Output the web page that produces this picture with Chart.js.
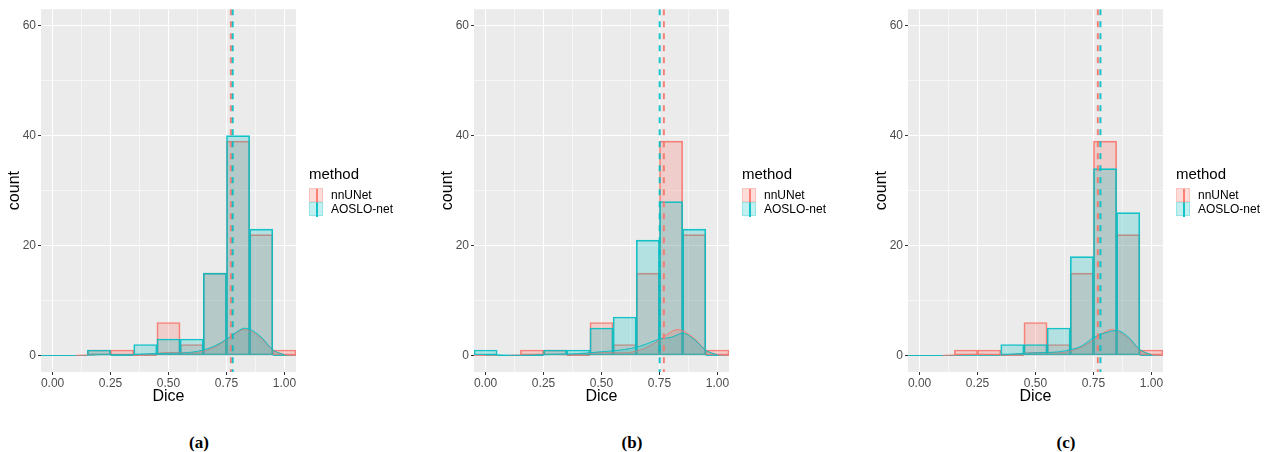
<!DOCTYPE html>
<html>
<head>
<meta charset="utf-8">
<script src="https://cdn.jsdelivr.net/npm/chart.js@4.4.1/dist/chart.umd.min.js"></script>
<style>
  body { margin: 0; width: 1277px; height: 452px; background: #fff; position: relative; overflow: hidden;
         font-family: "Liberation Sans", Arial, sans-serif; }
  .panel { position: absolute; top: 0; width: 430px; height: 452px; }
  .panel canvas { position: absolute; left: 0; top: 0; }
  .legend { position: absolute; left: 309px; top: 164px; color: #000; }
  .legend .ttl { font-size: 15px; line-height: 20px; margin-bottom: 4px; }
  .legend .row { height: 14px; display: flex; align-items: center; font-size: 12px; }
  .key { width: 14px; height: 14px; box-sizing: border-box; position: relative; margin-right: 8px; }
  .key span { position: absolute; left: 6px; top: 0; width: 2px; height: 14px; }
  .caption { position: absolute; top: 433px; left: 169px; width: 60px; text-align: center; line-height: 20px;
             font: bold 17px "Liberation Serif", "Times New Roman", serif; }
</style>
</head>
<body>
<div class="panel" style="left:0px"><canvas id="chartA" width="430" height="410"></canvas></div>
<div class="panel" style="left:433px"><canvas id="chartB" width="430" height="410"></canvas></div>
<div class="panel" style="left:867px"><canvas id="chartC" width="430" height="410"></canvas></div>
<script>
// histogram bins (binwidth 0.1)
var binCenters = [0.0, 0.1, 0.2, 0.3, 0.4, 0.5, 0.6, 0.7, 0.8, 0.9, 1.0];
var nnunetCounts = [0, 0, 1, 1, 0, 6, 2, 15, 39, 22, 1];
var aosloCountsA = [0, 0, 1, 0, 2, 3, 3, 15, 40, 23, 0];
var aosloCountsB = [1, 0, 0, 1, 1, 5, 7, 21, 28, 23, 0];
var aosloCountsC = [0, 0, 0, 0, 2, 2, 5, 18, 34, 26, 0];

// density curves
var nnunetDensX = [0.10, 0.15, 0.20, 0.25, 0.30, 0.35, 0.40, 0.45, 0.50, 0.55, 0.60, 0.65, 0.70, 0.75, 0.80, 0.825, 0.85, 0.90, 0.95, 1.00, 1.05];
var nnunetDensY = [0.03, 0.10, 0.18, 0.20, 0.17, 0.14, 0.20, 0.38, 0.55, 0.50, 0.48, 0.80, 1.55, 2.85, 4.30, 4.72, 4.50, 3.10, 1.00, 0.15, 0.02];
var aosloDensXA = [0.15, 0.20, 0.25, 0.30, 0.35, 0.40, 0.45, 0.50, 0.55, 0.60, 0.65, 0.70, 0.75, 0.80, 0.825, 0.85, 0.90, 0.95, 1.00];
var aosloDensYA = [0.05, 0.14, 0.16, 0.13, 0.16, 0.28, 0.38, 0.42, 0.44, 0.60, 1.00, 1.75, 2.95, 4.45, 4.95, 4.80, 3.35, 1.05, 0.12];
var aosloDensXB = [0.00, 0.05, 0.10, 0.15, 0.20, 0.25, 0.30, 0.35, 0.40, 0.45, 0.50, 0.55, 0.60, 0.65, 0.70, 0.75, 0.80, 0.85, 0.90, 0.95, 1.00];
var aosloDensYB = [0.12, 0.12, 0.06, 0.04, 0.07, 0.14, 0.20, 0.25, 0.35, 0.50, 0.70, 0.85, 1.10, 1.50, 2.20, 3.00, 3.30, 4.05, 2.90, 0.95, 0.12];
var aosloDensXC = [0.35, 0.40, 0.45, 0.50, 0.55, 0.60, 0.65, 0.70, 0.75, 0.80, 0.85, 0.90, 0.95, 1.00];
var aosloDensYC = [0.10, 0.25, 0.40, 0.50, 0.55, 0.68, 1.05, 1.75, 3.25, 4.10, 4.55, 3.40, 1.10, 0.15];

// mean Dice (dashed lines)
var nnunetMean = 0.769;
var aosloMeans = [0.777, 0.751, 0.780];

var xRange = [-0.05, 1.05];
var yRange = [-3, 63];
var xTicks = [0, 0.25, 0.5, 0.75, 1];
var xMinor = [0.125, 0.375, 0.625, 0.875];
var yTicks = [0, 20, 40, 60];
var yMinor = [10, 30, 50];

var methods = ['nnUNet', 'AOSLO-net'];
var panelLabels = ['(a)', '(b)', '(c)'];

var RED = 'rgba(248,118,109,0.9)', RED_FILL = 'rgba(248,118,109,0.26)';
var TEAL = 'rgba(0,191,196,0.9)', TEAL_FILL = 'rgba(0,191,196,0.24)';

Chart.defaults.font.family = '"Liberation Sans", Arial, sans-serif';

// grey panel background
var panelBg = {
  id: 'panelBg',
  beforeDraw: function (chart) {
    var a = chart.chartArea, c = chart.ctx;
    c.save();
    c.fillStyle = '#EBEBEB';
    c.fillRect(a.left, a.top, a.right - a.left, a.bottom - a.top);
    c.restore();
  }
};

// ggplot draws empty bins as a flat outline on the baseline
var zeroBins = {
  id: 'zeroBins',
  afterDatasetDraw: function (chart, args) {
    var meta = args.meta;
    if (meta.type !== 'bar') return;
    var ds = chart.data.datasets[args.index];
    var c = chart.ctx;
    c.save();
    c.strokeStyle = ds.borderColor;
    c.lineWidth = 1;
    meta.data.forEach(function (bar, i) {
      if (ds.data[i].y !== 0) return;
      c.beginPath();
      c.moveTo(bar.x - bar.width / 2, bar.base);
      c.lineTo(bar.x + bar.width / 2, bar.base);
      c.stroke();
    });
    c.restore();
  }
};

function pts(xs, ys) {
  return xs.map(function (x, i) { return {x: x, y: ys[i]}; });
}

function histSet(label, counts, border, fill, order) {
  return {
    type: 'bar', label: label, data: pts(binCenters, counts),
    backgroundColor: fill, borderColor: border, borderWidth: 1, borderSkipped: false,
    grouped: false, barPercentage: 1, categoryPercentage: 1, order: order
  };
}

function densSet(xs, ys, border, fill, order) {
  return {
    type: 'line', data: pts(xs, ys), fill: 'origin', backgroundColor: fill, borderColor: border,
    borderWidth: 1, pointRadius: 0, cubicInterpolationMode: 'monotone', order: order
  };
}

function meanSet(m, color, order) {
  return {
    type: 'line', data: [{x: m, y: yRange[1]}, {x: m, y: yRange[0]}], borderColor: color,
    borderWidth: 2, borderDash: [6, 6], pointRadius: 0, fill: false, order: order
  };
}

function makePanel(id, counts, densX, densY, mean, label) {
  var ctx = document.getElementById(id).getContext('2d');

  // legend + caption
  var box = document.getElementById(id).parentNode;
  var lg = document.createElement('div');
  lg.className = 'legend';
  var html = '<div class="ttl">method</div>';
  [[RED, RED_FILL], [TEAL, TEAL_FILL]].forEach(function (c, i) {
    html += '<div class="row"><div class="key" style="background:' + c[1] + ';border:1px solid ' + c[1] + '">' +
      '<span style="background:' + c[0] + '"></span></div>' + methods[i] + '</div>';
  });
  lg.innerHTML = html;
  box.appendChild(lg);
  var cap = document.createElement('div');
  cap.className = 'caption';
  cap.textContent = label;
  box.appendChild(cap);

  function isMinorX(v) { return xMinor.indexOf(v) >= 0; }
  function isMinorY(v) { return yMinor.indexOf(v) >= 0; }

  return new Chart(ctx, {
    type: 'bar',
    data: {
      datasets: [
        histSet(methods[0], nnunetCounts, RED, RED_FILL, 7),
        histSet(methods[1], counts, TEAL, TEAL_FILL, 6),
        densSet(nnunetDensX, nnunetDensY, RED, RED_FILL, 5),
        densSet(densX, densY, TEAL, TEAL_FILL, 4),
        meanSet(nnunetMean, RED, 3),
        meanSet(mean, TEAL, 2)
      ]
    },
    options: {
      responsive: false,
      animation: false,
      layout: {padding: {left: 0, top: 8, right: 134, bottom: 0}},
      plugins: {legend: {display: false}, tooltip: {enabled: false}},
      scales: {
        x: {
          type: 'linear', min: xRange[0], max: xRange[1], offset: false,
          border: {display: false},
          grid: {
            offset: false, drawTicks: true, tickLength: 3,
            color: function (c) { return isMinorX(c.tick.value) ? 'rgba(255,255,255,0.55)' : '#FFFFFF'; },
            tickColor: function (c) { return isMinorX(c.tick.value) ? 'rgba(0,0,0,0)' : '#333333'; },
            lineWidth: 1
          },
          ticks: {
            autoSkip: false, maxRotation: 0, padding: 1, color: '#4D4D4D', font: {size: 12},
            callback: function (v) { return isMinorX(v) ? '' : v.toFixed(2); }
          },
          title: {display: true, text: 'Dice', color: '#000', font: {size: 16}, padding: {top: 0, bottom: 4}},
          afterBuildTicks: function (s) {
            s.ticks = xTicks.concat(xMinor).sort().map(function (v) { return {value: v}; });
          },
          afterFit: function (s) { s.height = 38; }
        },
        y: {
          min: yRange[0], max: yRange[1],
          border: {display: false},
          grid: {
            drawTicks: true, tickLength: 3,
            color: function (c) { return isMinorY(c.tick.value) ? 'rgba(255,255,255,0.55)' : '#FFFFFF'; },
            tickColor: function (c) { return isMinorY(c.tick.value) ? 'rgba(0,0,0,0)' : '#333333'; },
            lineWidth: 1
          },
          ticks: {
            padding: 2, color: '#4D4D4D', font: {size: 12},
            callback: function (v) { return isMinorY(v) ? '' : v; }
          },
          title: {display: true, text: 'count', color: '#000', font: {size: 16}, padding: {top: 5, bottom: 0}},
          afterBuildTicks: function (s) {
            s.ticks = yTicks.concat(yMinor).sort(function (a, b) { return a - b; }).map(function (v) { return {value: v}; });
          },
          afterFit: function (s) { s.width = 41; }
        }
      }
    },
    plugins: [panelBg, zeroBins]
  });
}

makePanel('chartA', aosloCountsA, aosloDensXA, aosloDensYA, aosloMeans[0], panelLabels[0]);
makePanel('chartB', aosloCountsB, aosloDensXB, aosloDensYB, aosloMeans[1], panelLabels[1]);
makePanel('chartC', aosloCountsC, aosloDensXC, aosloDensYC, aosloMeans[2], panelLabels[2]);
</script>
</body>
</html>
